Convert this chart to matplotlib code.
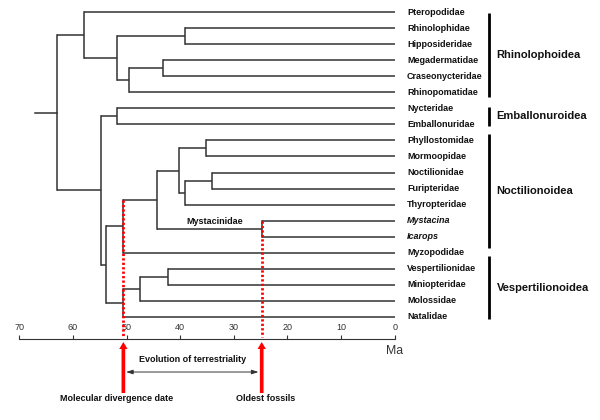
import matplotlib
matplotlib.use('Agg')
import matplotlib.pyplot as plt

plt.rcParams['font.family'] = ['Liberation Sans', 'DejaVu Sans']

# tip families, top to bottom
tip_names = ['Pteropodidae', 'Rhinolophidae', 'Hipposideridae', 'Megadermatidae',
             'Craseonycteridae', 'Rhinopomatidae', 'Nycteridae', 'Emballonuridae',
             'Phyllostomidae', 'Mormoopidae', 'Noctilionidae', 'Furipteridae',
             'Thyropteridae', 'Mystacina', 'Icarops', 'Myzopodidae',
             'Vespertilionidae', 'Miniopteridae', 'Molossidae', 'Natalidae']
italic_tips = ['Mystacina', 'Icarops']

# internal nodes: ages in Ma, children are node ids or tip names
node_ids = ['root', 'yinptero', 'rhinolophoidea', 'rhino_hippo', 'mega_group', 'mega_cras',
            'yango', 'emballonuroidea', 'noct_vesp', 'noctilionoidea', 'noct_core',
            'phyl_group', 'phyl_morm', 'thyro_group', 'noct_furi', 'mystacinidae',
            'vesp', 'vesp_moloss', 'vesp_minio']
node_ages = [63.0, 57.9, 51.7, 39.2, 49.6, 43.3,
             54.8, 51.7, 53.8, 50.6, 44.4,
             40.2, 35.1, 39.2, 34.0, 24.8,
             50.6, 47.5, 42.3]
node_children = [
    ['yinptero', 'yango'],
    ['Pteropodidae', 'rhinolophoidea'],
    ['rhino_hippo', 'mega_group'],
    ['Rhinolophidae', 'Hipposideridae'],
    ['mega_cras', 'Rhinopomatidae'],
    ['Megadermatidae', 'Craseonycteridae'],
    ['emballonuroidea', 'noct_vesp'],
    ['Nycteridae', 'Emballonuridae'],
    ['noctilionoidea', 'vesp'],
    ['noct_core', 'Myzopodidae'],
    ['phyl_group', 'mystacinidae'],
    ['phyl_morm', 'thyro_group'],
    ['Phyllostomidae', 'Mormoopidae'],
    ['noct_furi', 'Thyropteridae'],
    ['Noctilionidae', 'Furipteridae'],
    ['Mystacina', 'Icarops'],
    ['vesp_moloss', 'Natalidae'],
    ['vesp_minio', 'Molossidae'],
    ['Vespertilionidae', 'Miniopteridae'],
]
root_stem_age = 67.1

superfamilies = ['Rhinolophoidea', 'Emballonuroidea', 'Noctilionoidea', 'Vespertilionoidea']
axis_ticks = [0, 10, 20, 30, 40, 50, 60, 70]

# molecular divergence (Noctilionoidea crown) and oldest fossil (Mystacinidae)
dated_nodes = ['noctilionoidea', 'mystacinidae']

# layout
bar_spans = [(0.05, 5.3), (5.9, 7.1), (7.6, 14.7), (15.2, 19.15)]
axis_row = 20.37
tree_col = '#333333'

age = dict(zip(node_ids, node_ages))
kids = dict(zip(node_ids, node_children))
ypos = {}

fig = plt.figure(figsize=(6, 4.2), dpi=100)
ax = fig.add_axes([0, 0, 1, 1])
ax.set_xlim(73.61, -38.29)
ax.set_ylim(25.42, -0.748)


def draw(node):
    if node not in age:
        ypos[node] = tip_names.index(node)
        return ypos[node]
    ys = [draw(c) for c in kids[node]]
    for c, y in zip(kids[node], ys):
        ax.plot([age[node], age.get(c, 0)], [y, y], color=tree_col, lw=1.1,
                solid_capstyle='butt')
    ax.plot([age[node]] * 2, [min(ys), max(ys)], color=tree_col, lw=1.1,
            solid_capstyle='projecting')
    ypos[node] = (min(ys) + max(ys)) / 2
    return ypos[node]


draw('root')
ax.plot([root_stem_age, age['root']], [ypos['root']] * 2, color=tree_col, lw=1.1)

for i, name in enumerate(tip_names):
    ax.annotate(name, (0, i), xytext=(8.9, 0), textcoords='offset points',
                va='center', ha='left', fontsize=6.5, fontweight='bold',
                style='italic' if name in italic_tips else 'normal', color='#111111')

for name, (y0, y1) in zip(superfamilies, bar_spans):
    ax.plot([-17.6, -17.6], [y0, y1], color='black', lw=2.0, solid_capstyle='butt')
    ax.text(-19.0, (y0 + y1) / 2, name, va='center', ha='left', fontsize=8,
            fontweight='bold', color='#111111')

ax.annotate('Mystacinidae', ((age['noct_core'] + age['mystacinidae']) / 2, ypos['mystacinidae']),
            xytext=(4, 5.5), textcoords='offset points', ha='center', va='center',
            fontsize=6.5, fontweight='bold', color='#111111')

# red dotted lines down to the time axis, then arrows below it
for node in dated_nodes:
    a = age[node]
    top = min(ypos[c] for c in kids[node])
    ax.plot([a, a], [top, axis_row - 0.15], color='red', lw=2.0, dashes=(0.8, 0.8))
    ax.annotate('', xy=(a, 20.56), xytext=(a, 23.74),
                arrowprops=dict(arrowstyle='simple,head_length=0.42,head_width=0.5,tail_width=0.22',
                                fc='red', ec='none', mutation_scale=12, shrinkA=0, shrinkB=0))

mol, fos = age[dated_nodes[0]], age[dated_nodes[1]]
ax.annotate('Molecular divergence date', (mol, 24.05), xytext=(-5, 0), textcoords='offset points',
            ha='center', va='center', fontsize=6.5, fontweight='bold', color='#111111')
ax.annotate('Oldest fossils', (fos, 24.05), xytext=(3, 0), textcoords='offset points',
            ha='center', va='center', fontsize=6.5, fontweight='bold', color='#111111')
ax.annotate('', xy=(fos + 0.6, 22.43), xytext=(mol - 0.5, 22.43),
            arrowprops=dict(arrowstyle='<|-|>,head_length=0.4,head_width=0.13', color=tree_col,
                            lw=0.7, mutation_scale=10, shrinkA=0, shrinkB=0))
ax.text((mol + fos) / 2, 21.68, 'Evolution of terrestriality', ha='center', va='center',
        fontsize=6.5, fontweight='bold', color='#111111')

# time axis
for side in ['left', 'right', 'bottom']:
    ax.spines[side].set_visible(False)
ax.spines['top'].set_position(('data', axis_row))
ax.spines['top'].set_bounds(0, 70)
ax.spines['top'].set_color(tree_col)
ax.spines['top'].set_linewidth(0.8)
ax.xaxis.set_ticks_position('top')
ax.set_xticks(axis_ticks)
ax.tick_params(axis='x', direction='out', length=3, width=0.8, pad=2,
               labelsize=6.5, colors=tree_col)
ax.set_yticks([])
ax.text(0, 21.1, 'Ma', ha='center', va='center', fontsize=8.8, color=tree_col)

fig.savefig('out.png', dpi=100)
